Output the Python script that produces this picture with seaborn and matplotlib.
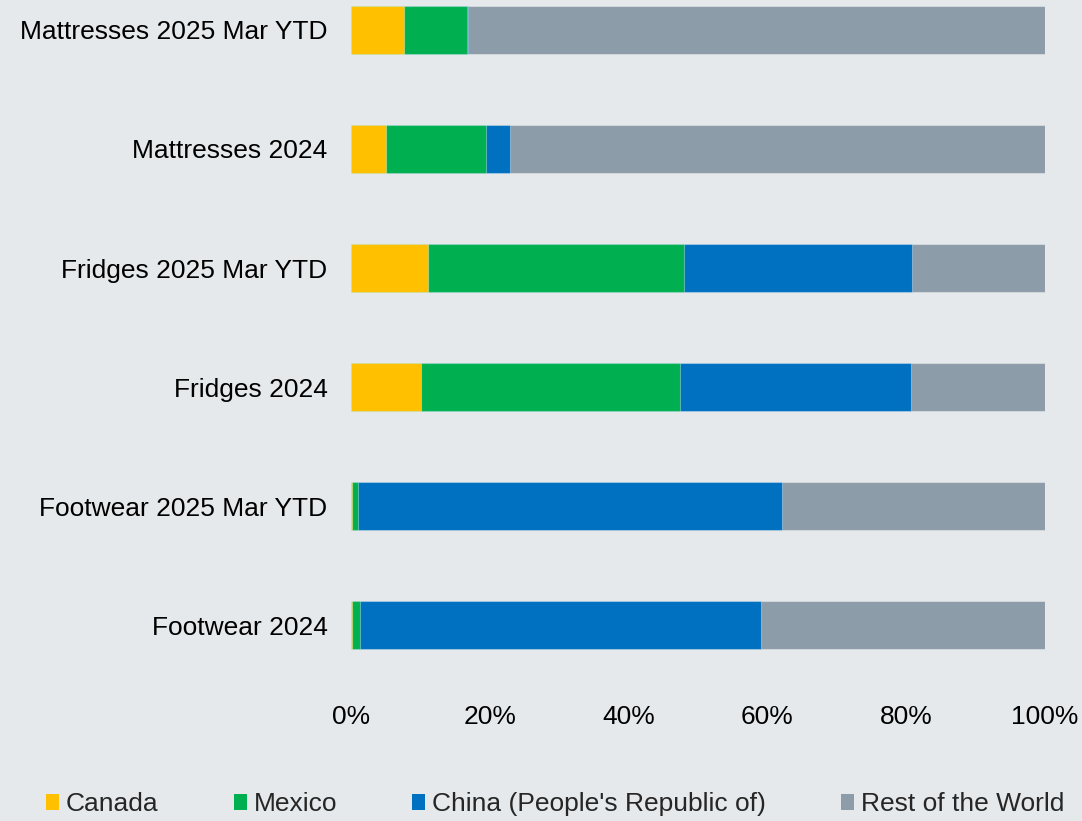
import matplotlib
matplotlib.use("Agg")
import matplotlib.pyplot as plt
import seaborn as sns
import pandas as pd
import numpy as np
from matplotlib.patches import Patch
from matplotlib.ticker import PercentFormatter

categories = ["Mattresses 2025 Mar YTD", "Mattresses 2024", "Fridges 2025 Mar YTD",
              "Fridges 2024", "Footwear 2025 Mar YTD", "Footwear 2024"]
series_names = ["Canada", "Mexico", "China (People's Republic of)", "Rest of the World"]
canada = [7.6, 5.1, 11.1, 10.1, 0.1, 0.15]
mexico = [9.1, 14.4, 36.9, 37.3, 0.9, 1.1]
china = [0.2, 3.4, 32.8, 33.3, 61.1, 57.8]
rest = [83.1, 77.1, 19.2, 19.3, 37.9, 40.95]
colors = ["#FFC000", "#00B050", "#0070C0", "#8C9CA8"]
bg = "#E6E9EC"

sns.set_theme(style="white")
plt.rcParams['font.family'] = ['Liberation Sans', 'DejaVu Sans']
FS = 19

fig = plt.figure(figsize=(10.82, 8.21), dpi=100, facecolor=bg)
ax = fig.add_axes([351/1082, 1 - 690/821, (1045 - 351)/1082, 690/821])
ax.set_facecolor(bg)

vals = np.array([canada, mexico, china, rest])
cum = np.cumsum(vals, axis=0)
# draw from the largest cumulative layer down
for i in range(3, -1, -1):
    df = pd.DataFrame({"cat": categories, "val": cum[i]})
    sns.barplot(data=df, x="val", y="cat", order=categories, orient="h",
                color=colors[i], saturation=1, width=0.4, ax=ax,
                edgecolor=(1, 1, 1, 0.35), linewidth=0.8)

ax.set_xlim(0, 100)
ax.set_ylim(5.546, -0.252)
ax.xaxis.set_major_formatter(PercentFormatter(decimals=0))
ax.set_xticks([0, 20, 40, 60, 80, 100])
ax.set_xlabel("")
ax.set_ylabel("")
ax.tick_params(axis="both", length=0, labelsize=FS, colors="black")
ax.tick_params(axis="x", pad=11)
ax.tick_params(axis="y", pad=17)
for s in ax.spines.values():
    s.set_visible(False)
ax.grid(False)

handles = [Patch(facecolor=c, edgecolor="none") for c in colors]
fig.legend(handles, series_names, loc="center", bbox_to_anchor=(0.513, 1 - 804/821),
           ncol=4, frameon=False, fontsize=FS, handlelength=0.5, handleheight=0.55,
           handletextpad=0.25, columnspacing=2.85)

fig.savefig("out.png", dpi=100, facecolor=bg)
